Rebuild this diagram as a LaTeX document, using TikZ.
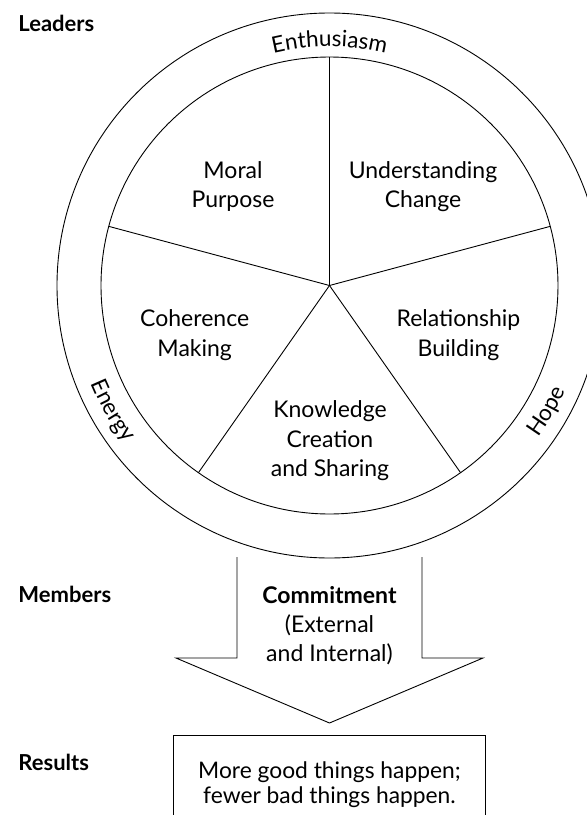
\documentclass[tikz,border=0pt]{standalone}
\usepackage{fontspec}
\setmainfont{Lato}
\usetikzlibrary{decorations.text}

\tikzset{
  part/.style={align=center, inner sep=0pt, font=\fontsize{23}{29.5}\selectfont},
  title/.style={anchor=base west, inner sep=0pt, font=\fontsize{22}{26}\selectfont\bfseries},
  arctext/.style={decorate, decoration={text along path, text align=center,
    text={|\fontsize{22.5}{26}\selectfont|#1}}}
}

\begin{document}
\begin{tikzpicture}[x=1pt, y=1pt, line width=0.9pt]
\clip (-329.5,-529.5) rectangle (257.5,285.5);
\coordinate (c) at (0,0);
\draw (c) circle[radius=272.5];
\draw (c) circle[radius=228.5];
\foreach \a [count=\i] in {90,165,235,305,15}{
  \coordinate (s\i) at (\a:228.5);
  \draw (c) -- (s\i);
}
\path[arctext=Enthusiasm] (150:239) arc[start angle=150, end angle=30, radius=239];
\path[arctext=Energy] (180:258) arc[start angle=180, end angle=240, radius=258];
\path[arctext=Hope] (300:258) arc[start angle=300, end angle=360, radius=258];

\node[part] (moral) at (-96.5,99) {Moral\\Purpose};
\node[part] (change) at (93.5,99) {Understanding\\Change};
\node[part] (coherence) at (-134.8,-49.5) {Coherence\\Making};
\node[part] (relation) at (129,-49.5) {Relationship\\Building};
\node[part] (knowledge) at (0.5,-155.5) {Knowledge\\Creation\\and Sharing};

\node[title] (leaders) at (-311.5,254.5) {Leaders};
\node[title] (members) at (-311.5,-316.5) {Members};
\node[title] (results) at (-311.5,-484.5) {Results};

\draw (-92.5,-271.5) -- (-92.5,-372.5) -- (-153.5,-372.5) -- (0,-437.5)
  -- (153.5,-372.5) -- (92.5,-372.5) -- (92.5,-271.5);
\node[part, font=\fontsize{23}{29}\selectfont] (commit) at (0,-340.5)
  {\textbf{Commitment}\\(External\\and Internal)};

\node[draw, align=center, minimum width=312.5, minimum height=99,
  font=\fontsize{22.8}{25.5}\selectfont] (res) at (0,-499)
  {More good things happen;\\fewer bad things happen.};
\end{tikzpicture}
\end{document}
